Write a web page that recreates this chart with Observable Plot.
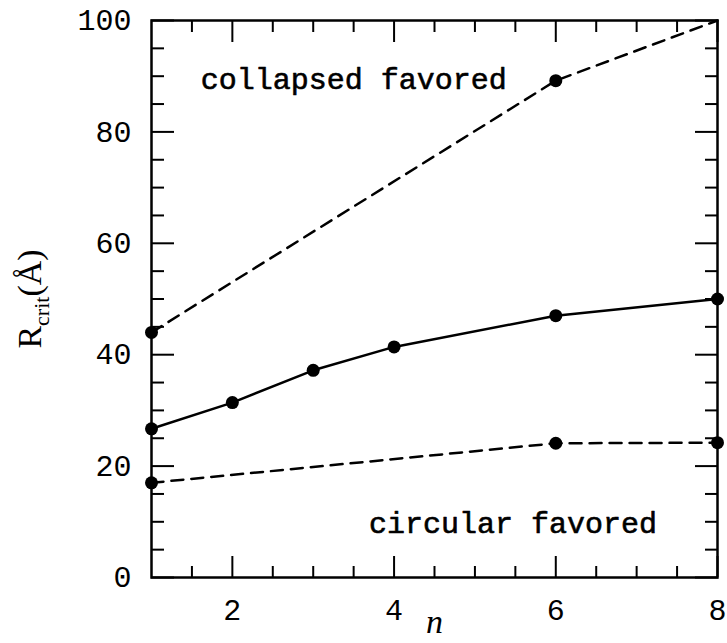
<!DOCTYPE html>
<html><head><meta charset="utf-8">
<script src="https://cdn.jsdelivr.net/npm/d3@7"></script>
<script src="https://cdn.jsdelivr.net/npm/@observablehq/plot@0.6"></script>
<style>body{margin:0;background:#fff} svg{display:block}</style>
</head><body><div id="chart"></div>
<script>
// ---- data ----
const nSolid = [1, 2, 3, 4, 6, 8];
const rSolid = [26.7, 31.4, 37.2, 41.4, 47.0, 50.0];
const nUpper = [1, 6, 8];
const rUpper = [44.0, 89.2, 100];
const upperMarked = [true, true, false];
const nLower = [1, 6, 8];
const rLower = [17.0, 24.1, 24.2];

// ---- ticks and labels ----
const xMajorTicks = [2, 4, 6, 8];
const xMinorTicks = [1.5, 2.5, 3, 3.5, 4.5, 5, 5.5, 6.5, 7, 7.5];
const yMajorTicks = [0, 20, 40, 60, 80, 100];
const yMinorTicks = [5, 10, 15, 25, 30, 35, 45, 50, 55, 65, 70, 75, 85, 90, 95];
const xLabel = "n";
const yLabel = "Rcrit(Å)";
const regionLabels = ["collapsed favored", "circular favored"];
const regionLabelN = [1.61, 3.69];
const regionLabelR = [89.4, 9.7];

const solid = nSolid.map((n, i) => ({n, r: rSolid[i]}));
const upper = nUpper.map((n, i) => ({n, r: rUpper[i], m: upperMarked[i]}));
const lower = nLower.map((n, i) => ({n, r: rLower[i]}));
const regions = regionLabels.map((t, i) => ({t, n: regionLabelN[i], r: regionLabelR[i]}));

const mono = "Liberation Mono, DejaVu Sans Mono, monospace";
const serif = "Liberation Serif, DejaVu Serif, serif";
const tk = {fill: "none", label: null, strokeWidth: 2};

const chart = Plot.plot({
  width: 727, height: 643,
  marginLeft: 151, marginRight: 10, marginTop: 20, marginBottom: 66,
  x: {domain: [1, 8]},
  y: {domain: [0, 100]},
  style: {background: "#fff", color: "#000"},
  marks: [
    // inward ticks on all four sides
    Plot.axisY(yMajorTicks, {...tk, anchor: "left", tickSize: 23, dx: 23}),
    Plot.axisY(yMinorTicks, {...tk, anchor: "left", tickSize: 13, dx: 13}),
    Plot.axisY(yMajorTicks, {...tk, anchor: "right", tickSize: 23, dx: -23}),
    Plot.axisY(yMinorTicks, {...tk, anchor: "right", tickSize: 13, dx: -13}),
    Plot.axisX(xMajorTicks, {...tk, anchor: "bottom", tickSize: 21, dy: -21}),
    Plot.axisX(xMinorTicks, {...tk, anchor: "bottom", tickSize: 11, dy: -11}),
    Plot.axisX(xMajorTicks, {...tk, anchor: "top", tickSize: 21, dy: 21}),
    Plot.axisX(xMinorTicks, {...tk, anchor: "top", tickSize: 11, dy: 11}),
    // tick labels
    Plot.axisY(yMajorTicks, {anchor: "left", tickSize: 0, tickPadding: 20, label: null,
      fontSize: 30, fontFamily: mono, stroke: "#000", strokeWidth: 0.6}),
    Plot.axisX(xMajorTicks, {anchor: "bottom", tickSize: 0, tickPadding: 21, label: null,
      fontSize: 30, fontFamily: mono, stroke: "#000", strokeWidth: 0.6}),
    Plot.frame({stroke: "#000", strokeWidth: 2.5}),
    // curves
    Plot.line(upper, {x: "n", y: "r", stroke: "#000", strokeWidth: 2.5, strokeDasharray: "12,8"}),
    Plot.line(lower, {x: "n", y: "r", stroke: "#000", strokeWidth: 2.5, strokeDasharray: "12,8"}),
    Plot.line(solid, {x: "n", y: "r", stroke: "#000", strokeWidth: 2.5}),
    Plot.dot(solid, {x: "n", y: "r", r: 6.5, fill: "#000"}),
    Plot.dot(upper.filter(d => d.m), {x: "n", y: "r", r: 6.5, fill: "#000"}),
    Plot.dot(lower, {x: "n", y: "r", r: 6.5, fill: "#000"}),
    // annotations
    Plot.text(regions, {x: "n", y: "r", text: "t", textAnchor: "start",
      fontSize: 30, fontFamily: mono, fill: "#000", stroke: "#000", strokeWidth: 0.6}),
    // axis titles
    Plot.text([xLabel], {frameAnchor: "bottom", dy: 45, text: d => d, textAnchor: "middle",
      lineAnchor: "middle", fontSize: 34, fontFamily: serif, fontStyle: "italic", fill: "#000"}),
    Plot.text([yLabel], {frameAnchor: "left", dx: -121, rotate: -90, text: d => d,
      textAnchor: "middle", lineAnchor: "middle",
      fontSize: 34, fontFamily: serif, fill: "#000"})
  ]
});

// subscript "crit" in the y title
chart.querySelectorAll("text").forEach(t => {
  if (t.textContent === yLabel) {
    while (t.firstChild) t.removeChild(t.firstChild);
    const ns = "http://www.w3.org/2000/svg";
    const parts = [["R", 0, null], ["crit", 8, "22px"], ["(Å)", -8, null]];
    parts.forEach(([s, dy, fs]) => {
      const ts = document.createElementNS(ns, "tspan");
      ts.textContent = s;
      if (dy) ts.setAttribute("dy", dy);
      if (fs) ts.setAttribute("font-size", fs);
      t.appendChild(ts);
    });
  }
});

document.getElementById("chart").appendChild(chart);
</script>
</body></html>
